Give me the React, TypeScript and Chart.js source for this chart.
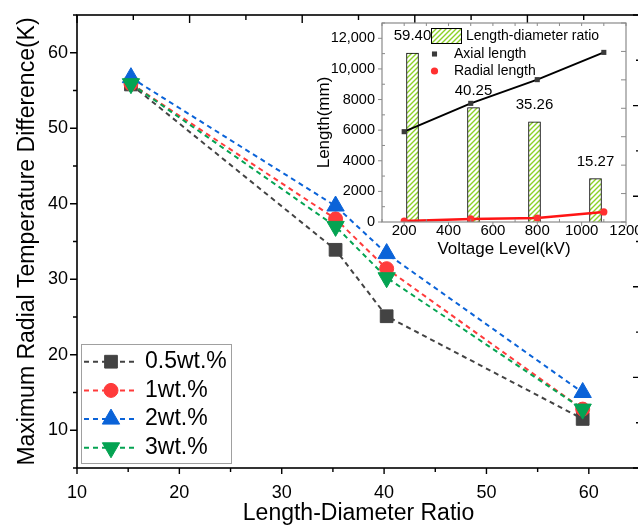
import React, { useEffect, useRef } from 'react';
import { Chart, registerables } from 'chart.js';
import { drawPoint } from 'chart.js/helpers';

Chart.register(...registerables);

const FONT = '"Liberation Sans", Arial, sans-serif';

// ---- main chart data ----
const ldRatio = [15.27, 35.26, 40.25, 59.4];
const seriesLabels = ['0.5wt.%', '1wt.%', '2wt.%', '3wt.%'];
const temp05 = [55.8, 33.9, 25.1, 11.5];
const temp1 = [55.9, 38.0, 31.4, 12.8];
const temp2 = [56.7, 39.7, 33.4, 15.0];
const temp3 = [55.9, 37.0, 30.2, 12.8];
const mainXTicks = [10, 20, 30, 40, 50, 60];
const mainYTicks = [10, 20, 30, 40, 50, 60];

// ---- inset data ----
const voltageLabels = ['200', '500', '800', '1100'];
const voltage = [200, 500, 800, 1100];
const axialLength = [5900, 7750, 9300, 11080];
const radialLength = [60, 200, 260, 660];
const ratioValues = [59.4, 40.25, 35.26, 15.27];
const insetLegendLabels = ['Length-diameter ratio', 'Axial length', 'Radial length'];
const insetXTicks = [200, 400, 600, 800, 1000, 1200];
const insetYTicks = [0, 2000, 4000, 6000, 8000, 10000, 12000];

type Edge = 'left' | 'right' | 'top' | 'bottom';
type TickSpec = {
  id: string; edge: Edge; step: number; minor: number;
  majorLen: number; minorLen: number; majorOut: boolean; minorOut: boolean;
};

function framePlugin(specs: TickSpec[], color: string, frameWidth: number, tickWidth: number) {
  return {
    id: 'frameTicks',
    afterDatasetsDraw(chart: any) {
      const { ctx, chartArea: a } = chart;
      ctx.save();
      ctx.strokeStyle = color;
      ctx.lineWidth = tickWidth;
      ctx.beginPath();
      for (const s of specs) {
        const sc = chart.scales[s.id];
        if (!sc) continue;
        const lo = Math.min(sc.min, sc.max);
        const hi = Math.max(sc.min, sc.max);
        const start = Math.ceil(lo / s.minor - 1e-9);
        for (let k = start; k * s.minor <= hi + 1e-9; k++) {
          const v = k * s.minor;
          const r = v / s.step;
          const major = Math.abs(r - Math.round(r)) < 1e-6;
          const len = major ? s.majorLen : s.minorLen;
          if (len <= 0) continue;
          const out = major ? s.majorOut : s.minorOut;
          const p = sc.getPixelForValue(v);
          if (s.edge === 'left') {
            ctx.moveTo(a.left, p); ctx.lineTo(a.left + (out ? -len : len), p);
          } else if (s.edge === 'right') {
            ctx.moveTo(a.right, p); ctx.lineTo(a.right + (out ? len : -len), p);
          } else if (s.edge === 'top') {
            ctx.moveTo(p, a.top); ctx.lineTo(p, a.top + (out ? -len : len));
          } else {
            ctx.moveTo(p, a.bottom); ctx.lineTo(p, a.bottom + (out ? len : -len));
          }
        }
      }
      ctx.stroke();
      ctx.lineWidth = frameWidth;
      ctx.strokeRect(a.left, a.top, a.right - a.left, a.bottom - a.top);
      ctx.restore();
    },
  };
}

const fixW = (w: number) => (s: any) => {
  s.width = w; s.paddingTop = 0; s.paddingBottom = 0; s.paddingLeft = 0; s.paddingRight = 0;
};
const fixH = (h: number) => (s: any) => {
  s.height = h; s.paddingTop = 0; s.paddingBottom = 0; s.paddingLeft = 0; s.paddingRight = 0;
};
const setTicks = (arr: number[]) => (s: any) => {
  s.ticks = arr.map((value) => ({ value }));
};
// an axis that takes part in the layout but draws nothing and takes no room
const silentAxis = (extra: any) => ({
  display: true,
  grid: { display: false, drawTicks: false },
  border: { display: false },
  ticks: { display: false },
  title: { display: false },
  afterFit: (s: any) => {
    if (s.isHorizontal()) s.height = 0; else s.width = 0;
    s.paddingTop = 0; s.paddingBottom = 0; s.paddingLeft = 0; s.paddingRight = 0;
  },
  ...extra,
});

const mainLegendPlugin = {
  id: 'mainLegend',
  afterDraw(chart: any) {
    const ctx = chart.ctx;
    ctx.save();
    ctx.fillStyle = '#ffffff';
    ctx.strokeStyle = '#a0a0a0';
    ctx.lineWidth = 1;
    ctx.fillRect(81.5, 344.5, 150, 119);
    ctx.strokeRect(81.5, 344.5, 150, 119);
    chart.data.datasets.forEach((ds: any, i: number) => {
      const cy = 361.7 + i * 28.7;
      ctx.setLineDash(ds.borderDash);
      ctx.strokeStyle = ds.borderColor;
      ctx.lineWidth = ds.borderWidth;
      ctx.beginPath();
      ctx.moveTo(84, cy);
      ctx.lineTo(137, cy);
      ctx.stroke();
      ctx.setLineDash([]);
      ctx.fillStyle = ds.pointBackgroundColor;
      ctx.strokeStyle = ds.pointBorderColor;
      ctx.lineWidth = ds.pointBorderWidth;
      drawPoint(ctx, {
        pointStyle: ds.pointStyle, rotation: ds.pointRotation || 0,
        radius: ds.pointRadius, borderWidth: ds.pointBorderWidth,
      } as any, 111, cy);
      ctx.fillStyle = '#000';
      ctx.font = `23px ${FONT}`;
      ctx.textAlign = 'left';
      ctx.textBaseline = 'middle';
      ctx.fillText(ds.label, 145, cy);
    });
    ctx.restore();
  },
};

function makeHatch(): CanvasPattern | string {
  const c = document.createElement('canvas');
  c.width = 5; c.height = 5;
  const g = c.getContext('2d');
  if (!g) return '#8dd12a';
  g.fillStyle = '#ffffff';
  g.fillRect(0, 0, 5, 5);
  g.strokeStyle = '#8cd128';
  g.lineWidth = 1.4;
  g.beginPath();
  g.moveTo(-1, 6); g.lineTo(6, -1);
  g.moveTo(-1, 1); g.lineTo(1, -1);
  g.moveTo(4, 6); g.lineTo(6, 4);
  g.stroke();
  return g.createPattern(c, 'repeat') || '#8dd12a';
}

function insetExtrasPlugin(hatch: any) {
  return {
    id: 'insetExtras',
    afterDraw(chart: any) {
      const ctx = chart.ctx;
      ctx.save();
      // bar value labels
      const meta = chart.getDatasetMeta(0);
      ctx.fillStyle = '#000';
      ctx.font = `15px ${FONT}`;
      ctx.textAlign = 'center';
      ctx.textBaseline = 'middle';
      meta.data.forEach((bar: any, i: number) => {
        ctx.fillText(ratioValues[i].toFixed(2), bar.x, bar.y - 17);
      });
      // legend
      const dsAx = chart.data.datasets[1];
      const dsRad = chart.data.datasets[2];
      ctx.fillStyle = hatch;
      ctx.fillRect(131, 28, 30, 15);
      ctx.strokeStyle = '#000';
      ctx.lineWidth = 1;
      ctx.strokeRect(131.5, 28.5, 30, 15);
      ctx.font = `14px ${FONT}`;
      ctx.textAlign = 'left';
      ctx.fillStyle = '#000';
      ctx.fillText(insetLegendLabels[0], 166, 36);
      [dsAx, dsRad].forEach((ds: any, i: number) => {
        const cy = 54 + i * 17;
        ctx.fillStyle = ds.pointBackgroundColor;
        ctx.strokeStyle = ds.pointBorderColor;
        ctx.lineWidth = 0;
        drawPoint(ctx, { pointStyle: ds.pointStyle, rotation: 0, radius: ds.pointRadius, borderWidth: 0 } as any, 134.5, cy);
        ctx.fillStyle = '#000';
        ctx.fillText(insetLegendLabels[i + 1], 154, cy);
      });
      ctx.restore();
    },
  };
}

function mainConfig(): any {
  const mk = (label: string, data: number[], color: string, style: string, radius: number, rotation: number, order: number) => ({
    type: 'line',
    label,
    data: ldRatio.map((x, i) => ({ x, y: data[i] })),
    borderColor: color,
    backgroundColor: color,
    borderWidth: 2,
    borderDash: [5, 4],
    pointStyle: style,
    pointRadius: radius,
    pointHoverRadius: radius,
    pointRotation: rotation,
    pointBackgroundColor: color,
    pointBorderColor: color,
    pointBorderWidth: 1,
    tension: 0,
    fill: false,
    order,
  });
  const tickFont = { family: FONT, size: 18 };
  const titleFont = { family: FONT, size: 23 };
  const specs: TickSpec[] = [
    { id: 'y', edge: 'left', step: 10, minor: 5, majorLen: 7, minorLen: 4, majorOut: true, minorOut: true },
    { id: 'x', edge: 'bottom', step: 10, minor: 5, majorLen: 6, minorLen: 4, majorOut: true, minorOut: true },
    { id: 'x2', edge: 'top', step: 1, minor: 0.5, majorLen: 8, minorLen: 5, majorOut: false, minorOut: false },
    { id: 'y2', edge: 'right', step: 1, minor: 0.5, majorLen: 7, minorLen: 4, majorOut: false, minorOut: false },
  ];
  return {
    type: 'line',
    data: {
      datasets: [
        mk(seriesLabels[0], temp05, '#434343', 'rect', 9, 0, 4),
        mk(seriesLabels[1], temp1, '#ff3b3b', 'circle', 7, 0, 3),
        mk(seriesLabels[2], temp2, '#0b63d8', 'triangle', 10, 0, 2),
        mk(seriesLabels[3], temp3, '#04a352', 'triangle', 10, 180, 1),
      ],
    },
    options: {
      responsive: false,
      animation: false,
      events: [],
      layout: { padding: { left: 0, top: 15, right: 20, bottom: 0 } },
      plugins: { legend: { display: false }, tooltip: { enabled: false } },
      scales: {
        x: {
          type: 'linear', position: 'bottom', min: 10, max: 65, bounds: 'data', offset: false,
          grid: { display: false, drawTicks: false, offset: false }, border: { display: false },
          ticks: { autoSkip: false, maxRotation: 0, padding: 14, color: '#000', font: tickFont, callback: (v: any) => String(v) },
          afterBuildTicks: setTicks(mainXTicks),
          title: { display: true, text: 'Length-Diameter Ratio', color: '#000', font: titleFont, padding: { top: 0, bottom: 0 } },
          afterFit: fixH(59),
        },
        y: {
          type: 'linear', position: 'left', min: 5, max: 65, bounds: 'data', offset: false,
          grid: { display: false, drawTicks: false }, border: { display: false },
          ticks: { autoSkip: false, padding: 9, color: '#000', font: tickFont, callback: (v: any) => String(v) },
          afterBuildTicks: setTicks(mainYTicks),
          title: { display: true, text: 'Maximum Radial Temperature Difference(K)', color: '#000', font: titleFont, padding: { top: 14, bottom: 0 } },
          afterFit: fixW(77),
        },
        x2: silentAxis({ type: 'linear', position: 'top', min: 0, max: 5, bounds: 'data', offset: false }),
        y2: silentAxis({ type: 'linear', position: 'right', min: 0, max: 5, bounds: 'data', offset: false }),
      },
    },
    plugins: [framePlugin(specs, '#000', 1.6, 1.4), mainLegendPlugin],
  };
}

function insetConfig(): any {
  const hatch = makeHatch();
  const specs: TickSpec[] = [
    { id: 'y', edge: 'left', step: 2000, minor: 1000, majorLen: 4, minorLen: 3, majorOut: true, minorOut: false },
    { id: 'x', edge: 'bottom', step: 200, minor: 100, majorLen: 4, minorLen: 3, majorOut: true, minorOut: false },
    { id: 'x', edge: 'top', step: 200, minor: 100, majorLen: 3, minorLen: 3, majorOut: false, minorOut: false },
    { id: 'yr', edge: 'right', step: 10, minor: 10, majorLen: 5, minorLen: 5, majorOut: false, minorOut: false },
  ];
  return {
    type: 'bar',
    data: {
      labels: voltageLabels,
      datasets: [
        {
          type: 'bar', label: insetLegendLabels[0], xAxisID: 'xc', yAxisID: 'yr',
          data: ratioValues, backgroundColor: hatch, borderColor: '#000', borderWidth: 1,
          barThickness: 12, grouped: false, order: 3,
        },
        {
          type: 'line', label: insetLegendLabels[1], xAxisID: 'x', yAxisID: 'y',
          data: voltage.map((x, i) => ({ x, y: axialLength[i] })),
          borderColor: '#000', borderWidth: 2, pointStyle: 'rect', pointRadius: 3.6,
          pointBackgroundColor: '#3a3a3a', pointBorderColor: '#3a3a3a', pointBorderWidth: 0,
          tension: 0, fill: false, order: 2,
        },
        {
          type: 'line', label: insetLegendLabels[2], xAxisID: 'x', yAxisID: 'y',
          data: voltage.map((x, i) => ({ x, y: radialLength[i] })),
          borderColor: '#ff1414', borderWidth: 2.5, pointStyle: 'circle', pointRadius: 3.6,
          pointBackgroundColor: '#ff3030', pointBorderColor: '#ff3030', pointBorderWidth: 0,
          tension: 0, fill: false, order: 1,
        },
      ],
    },
    options: {
      responsive: false,
      animation: false,
      events: [],
      layout: { padding: { left: 0, top: 23, right: 12, bottom: 0 } },
      plugins: { legend: { display: false }, tooltip: { enabled: false } },
      scales: {
        x: {
          type: 'linear', position: 'bottom', min: 100, max: 1200, bounds: 'data', offset: false,
          grid: { display: false, drawTicks: false, offset: false }, border: { display: false },
          ticks: { autoSkip: false, maxRotation: 0, padding: 0, color: '#000', font: { family: FONT, size: 15 }, callback: (v: any) => String(v) },
          afterBuildTicks: setTicks(insetXTicks),
          title: { display: true, text: 'Voltage Level(kV)', color: '#000', font: { family: FONT, size: 17 }, padding: { top: 0, bottom: 10 } },
          afterFit: fixH(48),
        },
        y: {
          type: 'linear', position: 'left', min: 0, max: 13000, bounds: 'data', offset: false,
          grid: { display: false, drawTicks: false }, border: { display: false },
          ticks: {
            autoSkip: false, padding: 7, color: '#000',
            font: { family: FONT, size: 14.5 },
            callback: (v: any) => (v >= 10000 ? Number(v).toLocaleString('en-US') : String(v)),
          },
          afterBuildTicks: setTicks(insetYTicks),
          title: { display: true, text: 'Length(mm)', color: '#000', font: { family: FONT, size: 17 }, padding: { top: 14, bottom: 0 } },
          afterFit: fixW(82),
        },
        xc: silentAxis({ type: 'category', position: 'bottom', offset: true }),
        yr: silentAxis({ type: 'linear', position: 'right', min: 0, max: 70, bounds: 'data', offset: false }),
      },
    },
    plugins: [framePlugin(specs, '#8a8a8a', 1.2, 1), insetExtrasPlugin(hatch)],
  };
}

export default function App() {
  const mainRef = useRef<HTMLCanvasElement>(null);
  const insetRef = useRef<HTMLCanvasElement>(null);
  useEffect(() => {
    const main = new Chart(mainRef.current as HTMLCanvasElement, mainConfig());
    const inset = new Chart(insetRef.current as HTMLCanvasElement, insetConfig());
    return () => {
      main.destroy();
      inset.destroy();
    };
  }, []);
  return (
    <div style={{ position: 'fixed', left: 0, top: 0, width: 638, height: 527, overflow: 'hidden', background: '#fff' }}>
      <div style={{ position: 'absolute', left: 0, top: 0, width: 660, height: 527 }}>
        <canvas ref={mainRef} width={660} height={527} style={{ display: 'block', width: 660, height: 527 }} />
      </div>
      <div style={{ position: 'absolute', left: 300, top: 0, width: 338, height: 270 }}>
        <canvas ref={insetRef} width={338} height={270} style={{ display: 'block', width: 338, height: 270 }} />
      </div>
    </div>
  );
}
